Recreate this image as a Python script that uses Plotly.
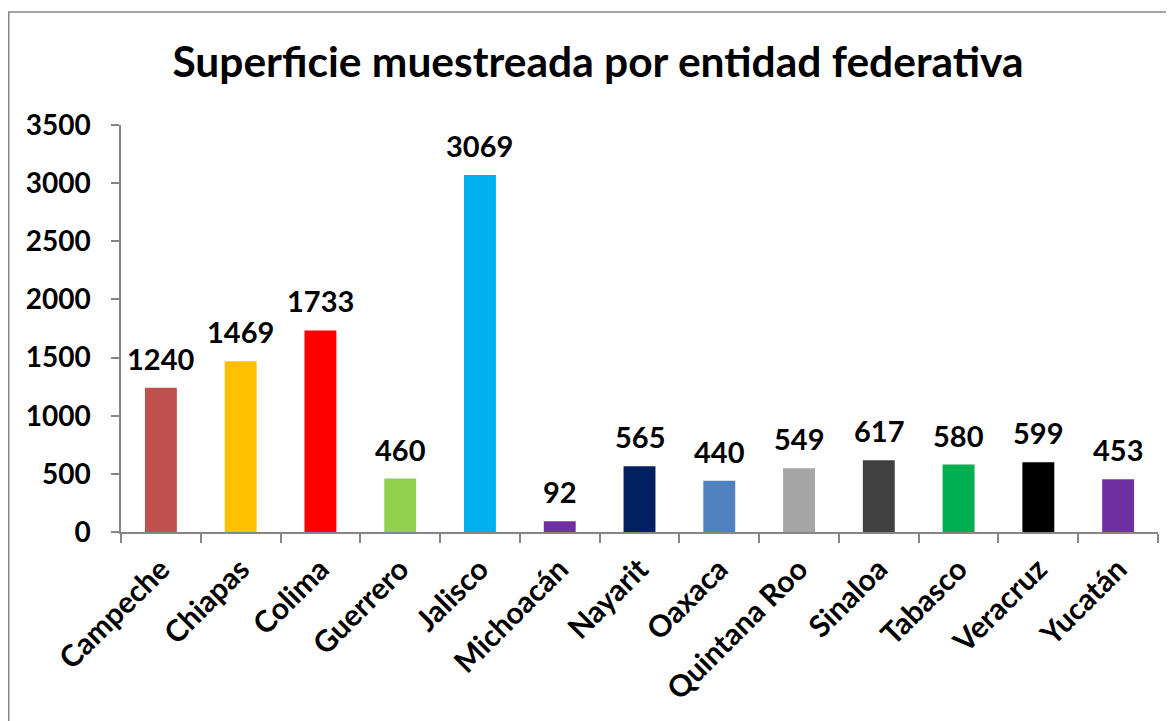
import plotly.graph_objects as go

estados = ["Campeche", "Chiapas", "Colima", "Guerrero", "Jalisco", "Michoacán", "Nayarit",
           "Oaxaca", "Quintana Roo", "Sinaloa", "Tabasco", "Veracruz", "Yucatán"]
superficie = [1240, 1469, 1733, 460, 3069, 92, 565, 440, 549, 617, 580, 599, 453]
colores = ["#C0504D", "#FFC000", "#FF0000", "#92D050", "#00B0F0", "#7030A0", "#002060",
           "#4F81BD", "#A6A6A6", "#404040", "#00B050", "#000000", "#7030A0"]
y_ticks = [0, 500, 1000, 1500, 2000, 2500, 3000, 3500]

FONT = "Lato"
GREY = "#868686"

W, H = 1174, 721
L, R, T, B = 113, 24, 117, 197
PW, PH = W - L - R, H - T - B

fig = go.Figure(go.Bar(
    x=estados, y=superficie, marker=dict(color=colores, line=dict(width=0)),
    width=0.4,
))

for e, v in zip(estados, superficie):
    fig.add_annotation(x=e, y=v, text=f"<b>{v}</b>", showarrow=False,
                       xanchor="center", yanchor="bottom", yshift=10,
                       font=dict(family=FONT, size=29, color="black"))

fig.update_layout(
    width=W, height=H,
    margin=dict(l=L, r=R, t=T, b=B),
    plot_bgcolor="white", paper_bgcolor="white",
    showlegend=False,
    title=dict(text="<b>Superficie muestreada por entidad federativa</b>",
               x=(598 - 8) / W, xanchor="center", y=1 - (62 - 8) / H, yanchor="middle",
               font=dict(family=FONT, size=42.5, color="black")),
    font=dict(family=FONT, color="black"),
)
fig.update_yaxes(range=[0, 3500], tickvals=y_ticks, showgrid=False, zeroline=False,
                 showline=True, linecolor=GREY, linewidth=1.5,
                 ticks="outside", ticklen=8, tickcolor=GREY, tickwidth=1.5,
                 ticklabelstandoff=15,
                 tickfont=dict(family=FONT, size=28, color="black", weight="bold"))
fig.update_xaxes(showline=True, linecolor=GREY, linewidth=1.5, tickson="boundaries",
                 ticks="outside", ticklen=9, tickcolor=GREY, tickwidth=1.5,
                 ticklabelstandoff=6,
                 tickangle=-45, showgrid=False,
                 tickfont=dict(family=FONT, size=30, color="black", weight="bold"))

fig.add_shape(type="rect", xref="paper", yref="paper",
              x0=(0.75 - L) / PW, x1=1.2, y0=-1, y1=(PH + T - 4) / PH,
              line=dict(color=GREY, width=1.5), fillcolor="rgba(0,0,0,0)", layer="below")

fig.write_html("out.html")
